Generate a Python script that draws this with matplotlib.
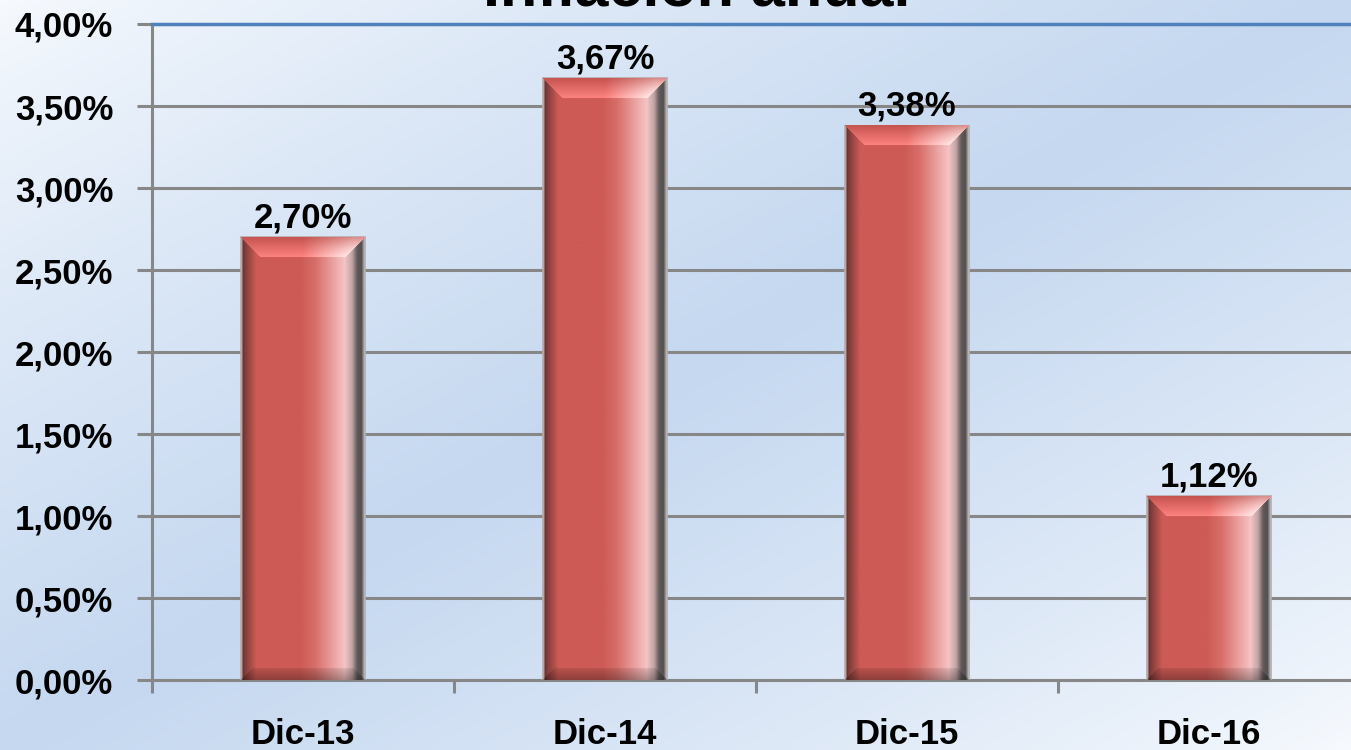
import numpy as np
import matplotlib
matplotlib.use("Agg")
import matplotlib.pyplot as plt

plt.rcParams['font.family'] = ['Liberation Sans', 'DejaVu Sans']

# Inflación anual (%)
categories = ['Dic-13', 'Dic-14', 'Dic-15', 'Dic-16']
values = [2.70, 3.67, 3.38, 1.12]
y_ticks = [0.0, 0.5, 1.0, 1.5, 2.0, 2.5, 3.0, 3.5, 4.0]
title = 'Inflación anual'


def pct(v):
    return f"{v:.2f}%".replace('.', ',')


def background(w=400, h=220):
    # diagonal gradient white -> light blue -> white
    xx, yy = np.meshgrid(np.linspace(0, 1, w), np.linspace(0, 1, h))
    d = (xx + yy) / 2.0
    t = np.clip(1 - np.abs(d - 0.5) * 2, 0, 1) ** 0.8
    white = np.array([247, 250, 254]) / 255
    blue = np.array([197, 216, 240]) / 255
    return white * (1 - t[..., None]) + blue * t[..., None]


def bar_texture(ncols, nrows, top_bev=20, bot_bev=12):
    u = np.linspace(0, 1, ncols)
    stops = [0, 0.015, 0.03, 0.12, 0.48, 0.60, 0.84, 0.90, 0.94, 0.975, 1.0]
    R = [190, 110, 130, 205, 205, 215, 245, 190, 100, 80, 185]
    G = [165, 52, 60, 90, 90, 110, 196, 165, 90, 80, 180]
    B = [165, 50, 58, 85, 85, 105, 196, 165, 90, 80, 180]
    prof = np.stack([np.interp(u, stops, R), np.interp(u, stops, G),
                     np.interp(u, stops, B)], axis=1) / 255
    img = np.repeat(prof[None, :, :], nrows, axis=0)
    cols = np.arange(ncols)
    # top bevel
    for r in range(min(top_bev, nrows)):
        t = r / top_bev
        mask = (cols >= r) & (cols <= ncols - 1 - r)
        c = np.array([198, 84, 80]) * (1 - t) + np.array([255, 132, 128]) * t
        c = c / 255
        w = np.clip((u - 0.5) / 0.42, 0, 1)[:, None] * (0.35 + 0.65 * t)
        row = c[None, :] * (1 - w) + w
        img[r, mask] = row[mask]
    # bottom bevel
    for k in range(min(bot_bev, nrows)):
        r = nrows - 1 - k
        t = k / bot_bev
        mask = (cols >= k) & (cols <= ncols - 1 - k)
        img[r, mask] = img[r, mask] * (0.7 + 0.22 * t)
    return np.clip(img, 0, 1)


fig = plt.figure(figsize=(13.51, 7.5), dpi=100)
bg = fig.add_axes([0, 0, 1, 1], zorder=0)
bg.imshow(background(), aspect='auto', extent=(0, 1, 0, 1), interpolation='bilinear')
bg.set_axis_off()

ax = fig.add_axes([0.1125, 0.0933, 0.894, 0.8747], zorder=1)
ax.set_facecolor('none')

x = np.arange(len(categories))
bars = ax.bar(x, values, width=0.41, color='#cd5a55', edgecolor='#bba9a9',
              linewidth=1.2, zorder=3)

ax.set_xlim(-0.5, len(categories) - 0.5)
ax.set_ylim(0, 4.0)

# textured fill for each bar
px_per_unit = 656 / 4.0
for b in bars:
    x0, w, h = b.get_x(), b.get_width(), b.get_height()
    nrows = max(int(h * px_per_unit), 40)
    tex = bar_texture(125, nrows)
    ax.imshow(tex, extent=(x0, x0 + w, 0, h), aspect='auto', origin='upper',
              interpolation='bilinear', zorder=4)

for xi, v in zip(x, values):
    ax.annotate(pct(v), (xi, v), xytext=(0, 7), textcoords='offset points',
                ha='center', va='baseline', fontsize=25, fontweight='bold', zorder=5)

ax.set_yticks(y_ticks)
ax.set_yticklabels([pct(v) for v in y_ticks], fontsize=25, fontweight='bold')
ax.tick_params(axis='y', length=11, width=2.2, color='#878787', pad=17)

ax.set_xticks(np.arange(len(categories) + 1) - 0.5)
ax.set_xticklabels([])
ax.tick_params(axis='x', which='major', length=9, width=2.2, color='#878787')
ax.set_xticks(x, minor=True)
ax.set_xticklabels(categories, minor=True, fontsize=25, fontweight='bold')
ax.tick_params(axis='x', which='minor', length=0, pad=27)

ax.yaxis.grid(True, color='#878787', linewidth=2.2, zorder=1)
ax.set_axisbelow(True)

ax.spines['left'].set_color('#878787')
ax.spines['left'].set_linewidth(2.2)
ax.spines['bottom'].set_color('#878787')
ax.spines['bottom'].set_linewidth(2.2)
ax.spines['top'].set_color('#4f81bd')
ax.spines['top'].set_linewidth(2.5)
ax.spines['right'].set_visible(False)

# title sits mostly above the top edge, as in the source image
fig.text(697 / 1351, 1 - 6 / 750, title, ha='center', va='baseline',
         fontsize=44, fontweight='bold')

fig.savefig('out.png', dpi=100)
